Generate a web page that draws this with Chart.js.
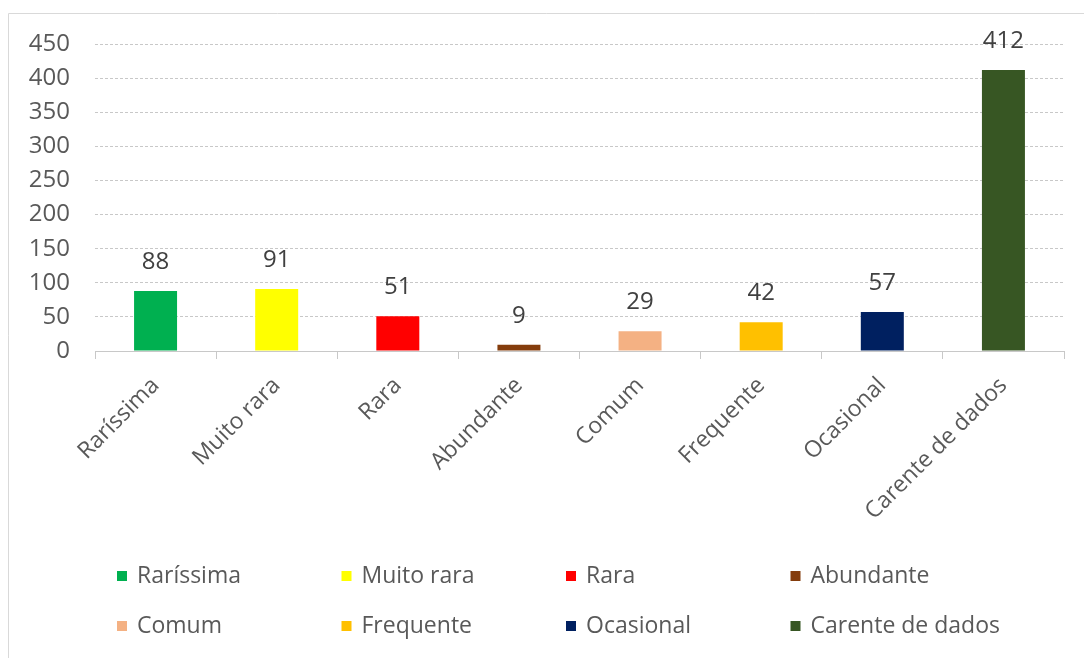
<!DOCTYPE html>
<html>
<head>
<meta charset="utf-8">
<script src="https://cdn.jsdelivr.net/npm/chart.js@4.4.0/dist/chart.umd.min.js"></script>
<style>
  html, body { margin: 0; padding: 0; background: #fff; }
  #wrap { width: 1084px; height: 658px; position: relative; }
</style>
</head>
<body>
<div id="wrap"><canvas id="chart" width="1084" height="658"></canvas></div>
<script>
// chart data
const categories = ['Raríssima', 'Muito rara', 'Rara', 'Abundante', 'Comum', 'Frequente', 'Ocasional', 'Carente de dados'];
const counts = [88, 91, 51, 9, 29, 42, 57, 412];
const barColors = ['#00B050', '#FFFF00', '#FF0000', '#843C0C', '#F4B183', '#FFC000', '#002060', '#375623'];
const yTicks = [0, 50, 100, 150, 200, 250, 300, 350, 400, 450];

const FONT = "'Open Sans', 'Noto Sans', sans-serif";
const TEXT = '#595959';
const GRID = '#c8c8c8';

// light frame at top and left like the original screenshot
const framePlugin = {
  id: 'frame',
  beforeDraw(chart) {
    const ctx = chart.ctx;
    ctx.save();
    ctx.strokeStyle = '#d9d9d9';
    ctx.lineWidth = 1;
    ctx.beginPath();
    ctx.moveTo(8.5, chart.height);
    ctx.lineTo(8.5, 13.5);
    ctx.lineTo(chart.width, 13.5);
    ctx.stroke();
    ctx.restore();
  }
};

// value labels above each bar
const valueLabels = {
  id: 'valueLabels',
  afterDatasetsDraw(chart) {
    const ctx = chart.ctx;
    const meta = chart.getDatasetMeta(0);
    ctx.save();
    ctx.font = '24px ' + FONT;
    ctx.fillStyle = '#404040';
    ctx.textAlign = 'center';
    ctx.textBaseline = 'middle';
    meta.data.forEach((bar, i) => {
      ctx.fillText(String(chart.data.datasets[0].data[i]), bar.x, bar.y - 29);
    });
    ctx.restore();
  }
};

// legend in a 4 x 2 grid under the axis labels
const gridLegend = {
  id: 'gridLegend',
  afterDraw(chart) {
    const ctx = chart.ctx;
    const cols = 4, colW = 224.5, startX = 117, rowY = [576, 626];
    ctx.save();
    ctx.font = '23px ' + FONT;
    ctx.textBaseline = 'middle';
    ctx.textAlign = 'left';
    chart.data.labels.forEach((lab, i) => {
      const x = startX + (i % cols) * colW;
      const y = rowY[Math.floor(i / cols)];
      ctx.fillStyle = chart.data.datasets[0].backgroundColor[i];
      ctx.fillRect(x, y - 5, 10, 10);
      ctx.fillStyle = TEXT;
      ctx.fillText(lab, x + 20, y);
    });
    ctx.restore();
  }
};

new Chart(document.getElementById('chart'), {
  type: 'bar',
  data: {
    labels: categories,
    datasets: [{
      data: counts,
      backgroundColor: barColors,
      categoryPercentage: 1,
      barPercentage: 0.355
    }]
  },
  options: {
    responsive: false,
    animation: false,
    layout: { padding: { top: 44, right: 20, left: 0, bottom: 0 } },
    plugins: {
      legend: { display: false },
      tooltip: { enabled: false }
    },
    scales: {
      x: {
        grid: { drawOnChartArea: false, color: GRID, tickLength: 8, offset: true },
        border: { color: GRID, dash: [3, 2] },
        ticks: {
          color: TEXT,
          font: { family: FONT, size: 23 },
          maxRotation: 45,
          minRotation: 45,
          padding: 13
        },
        afterFit(scale) { scale.height = 658 - 351; }
      },
      y: {
        min: 0,
        max: 450,
        afterBuildTicks(scale) { scale.ticks = yTicks.map(v => ({ value: v })); },
        grid: { color: GRID, drawTicks: false },
        border: { display: false, dash: [3, 2] },
        ticks: {
          color: TEXT,
          font: { family: FONT, size: 24 },
          padding: 25
        },
        afterFit(scale) { scale.width = 95; }
      }
    }
  },
  plugins: [framePlugin, valueLabels, gridLegend]
});
</script>
</body>
</html>
